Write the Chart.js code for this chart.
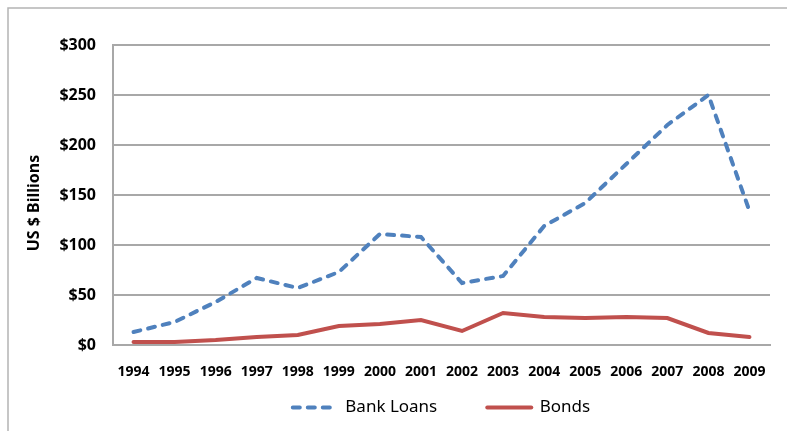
<!DOCTYPE html>
<html>
<head>
<meta charset="utf-8">
<script src="https://cdn.jsdelivr.net/npm/chart.js@4"></script>
<style>
  html, body { margin: 0; padding: 0; background: #fff; }
  canvas { display: block; }
</style>
</head>
<body>
<canvas id="loansChart" width="787" height="431"></canvas>
<script>
var years = ["1994", "1995", "1996", "1997", "1998", "1999", "2000", "2001",
             "2002", "2003", "2004", "2005", "2006", "2007", "2008", "2009"];
var bankLoans = [13, 23, 43, 67, 57, 73, 111, 108, 62, 69, 119, 142, 181, 220, 250, 134];
var bonds = [3, 3, 5, 8, 10, 19, 21, 25, 14, 32, 28, 27, 28, 27, 12, 8];

var gridGray = "#a8a8a8";
var fontFamily = "'Noto Sans', 'Open Sans', sans-serif";
var loanDash = [7, 8];

// thin frame round the whole chart
var framePlugin = {
    id: "frame",
    beforeDraw: function(chart) {
        var c = chart.ctx;
        c.save();
        c.strokeStyle = "#b4b4b4";
        c.lineWidth = 1.5;
        c.strokeRect(8, 8, chart.width + 20, chart.height + 20);
        c.restore();
    }
};

document.addEventListener("DOMContentLoaded", function() {
    var ctx = document.getElementById("loansChart").getContext("2d");
    new Chart(ctx, {
        type: "line",
        data: {
            labels: years,
            datasets: [{
                label: "Bank Loans",
                data: bankLoans,
                borderColor: "#4f81bd",
                backgroundColor: "#4f81bd",
                borderWidth: 4,
                borderDash: loanDash,
                borderCapStyle: "round",
                pointRadius: 0,
                tension: 0,
                fill: false
            }, {
                label: "Bonds",
                data: bonds,
                borderColor: "#c0504d",
                backgroundColor: "#c0504d",
                borderWidth: 4,
                borderCapStyle: "round",
                pointRadius: 0,
                tension: 0,
                fill: false
            }]
        },
        options: {
            responsive: false,
            animation: false,
            layout: {
                padding: { top: 45, right: 17, bottom: 5, left: 0 }
            },
            plugins: {
                legend: {
                    position: "bottom",
                    fullSize: false,
                    labels: {
                        usePointStyle: true,
                        pointStyle: "line",
                        pointStyleWidth: 44,
                        padding: 16,
                        color: "#000",
                        font: { family: fontFamily, size: 17 },
                        // line samples in the series' own stroke, wider gap after the first entry
                        generateLabels: function(chart) {
                            var items = Chart.defaults.plugins.legend.labels.generateLabels(chart);
                            items.forEach(function(item) {
                                item.lineWidth = 4;
                                item.lineCap = "round";
                            });
                            items[0].lineDash = loanDash;
                            items[0].text += "\u2003\u2003";
                            return items;
                        }
                    }
                },
                title: { display: false },
                tooltip: { enabled: false }
            },
            scales: {
                x: {
                    offset: true,
                    grid: { display: false, drawTicks: false },
                    border: { display: true, color: gridGray, width: 2 },
                    ticks: {
                        color: "#000",
                        padding: 19,
                        maxRotation: 0,
                        autoSkip: false,
                        font: { family: fontFamily, size: 14, weight: "bold" }
                    },
                    afterFit: function(scale) { scale.height = 38; }
                },
                y: {
                    min: 0,
                    max: 300,
                    grid: { color: gridGray, lineWidth: 2, drawTicks: false },
                    border: { display: true, color: gridGray, width: 2 },
                    ticks: {
                        stepSize: 50,
                        color: "#000",
                        padding: 17,
                        font: { family: fontFamily, size: 16, weight: "bold" },
                        callback: function(v) { return "$" + v; }
                    },
                    title: {
                        display: true,
                        text: "US $ Billions\u2003",
                        color: "#000",
                        padding: { top: 25, bottom: 0 },
                        font: { family: fontFamily, size: 16, weight: "bold" }
                    },
                    afterFit: function(scale) { scale.width = 113; }
                }
            }
        },
        plugins: [framePlugin]
    });
});
</script>
</body>
</html>
